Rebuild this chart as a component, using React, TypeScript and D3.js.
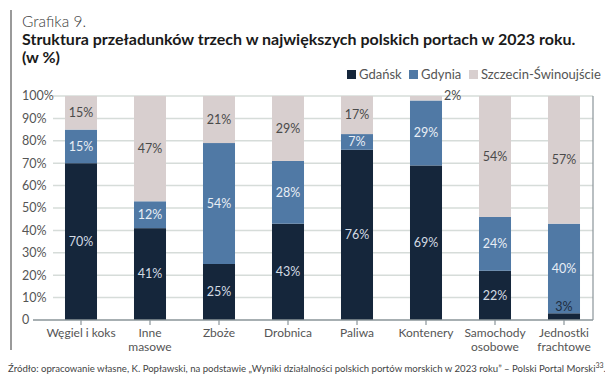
import React from "react";
import * as d3 from "d3";

const categories = [
  ["Węgiel i koks"],
  ["Inne", "masowe"],
  ["Zboże"],
  ["Drobnica"],
  ["Paliwa"],
  ["Kontenery"],
  ["Samochody", "osobowe"],
  ["Jednostki", "frachtowe"],
];
const gdansk = [70, 41, 25, 43, 76, 69, 22, 3];
const gdynia = [15, 12, 54, 28, 7, 29, 24, 40];
const szczecin = [15, 47, 21, 29, 17, 2, 54, 57];
const seriesNames = ["Gdańsk", "Gdynia", "Szczecin-Świnoujście"];
const yTicks = [0, 10, 20, 30, 40, 50, 60, 70, 80, 90, 100];

const colors = ["#15263b", "#5079a5", "#d8cfcf"];
const labelColors = ["#d3dbe3", "#e8eef5", "#4a4a4a"];
const FONT = "Lato, 'Open Sans', sans-serif";

export default function App() {
  const W = 605, H = 383;
  const y = d3.scaleLinear().domain([0, 100]).range([320, 96]);
  const x = d3
    .scaleBand<number>()
    .domain(d3.range(categories.length))
    .range([46.5, 598.5])
    .paddingInner(0.536)
    .paddingOuter(0.268);
  const data = categories.map((c, i) => ({ i, g0: gdansk[i], g1: gdynia[i], g2: szczecin[i] }));
  const stack = d3.stack<any>().keys(["g0", "g1", "g2"])(data);

  return (
    <svg width={W} height={H} style={{ position: "absolute", left: 0, top: 0, background: "#fff" }}>
      <rect width={W} height={H} fill="#fff" />
      <line x1={11} x2={11} y1={10} y2={350} stroke="#9a9a9a" strokeWidth={2} />
      <text x={22} y={27} fontFamily={FONT} fontSize={15.5} fontWeight={300} fill="#3a3a3a">Grafika 9.</text>
      <text x={22} y={45} fontFamily={FONT} fontSize={16} fontWeight={700} fill="#1a1a1a">
        Struktura przeładunków trzech w największych polskich portach w 2023 roku.
      </text>
      <text x={22} y={63} fontFamily={FONT} fontSize={16} fontWeight={700} fill="#1a1a1a">(w %)</text>

      {/* legend */}
      {[347, 409, 469].map((lx, k) => (
        <g key={k}>
          <rect x={lx} y={70} width={9} height={9} fill={colors[k]} />
          <text x={lx + 12} y={79} fontFamily={FONT} fontSize={13} fill="#555">{seriesNames[k]}</text>
        </g>
      ))}

      {/* gridlines */}
      {yTicks.filter(t => t > 0).map(t => (
        <line key={t} x1={53} x2={593} y1={y(t)} y2={y(t)} stroke="#d6dcd9" strokeWidth={1.5} />
      ))}
      {yTicks.map(t => (
        <text key={t} x={22} y={y(t)} dy="0.35em" fontFamily={FONT} fontSize={12.5} fill="#555">
          {t === 0 ? "0" : `${t}%`}
        </text>
      ))}

      {/* bars */}
      {stack.map((layer, k) =>
        layer.map((d, i) => (
          <rect key={`${k}-${i}`} x={x(i)} width={x.bandwidth()} y={y(d[1])} height={y(d[0]) - y(d[1])} fill={colors[k]} />
        ))
      )}
      {stack.map((layer, k) =>
        layer.map((d, i) => {
          const v = d[1] - d[0];
          const cx = (x(i) as number) + x.bandwidth() / 2;
          if (v < 5) {
            if (k === 2) {
              return (
                <text key={`l${k}-${i}`} x={cx + 18} y={y(d[1])} dy="0.35em" fontFamily={FONT} fontSize={12.5} fill="#4a4a4a">{v}%</text>
              );
            }
            return (
              <text key={`l${k}-${i}`} x={cx} y={y(d[1]) - 2} fontFamily={FONT} fontSize={12.5} textAnchor="middle" fill="#1e2d40">{v}%</text>
            );
          }
          return (
            <text key={`l${k}-${i}`} x={cx} y={y((d[0] + d[1]) / 2)} dy="0.35em" textAnchor="middle" fontFamily={FONT} fontSize={12.5} fill={labelColors[k]}>
              {v}%
            </text>
          );
        })
      )}

      {/* axes */}
      <line x1={593} x2={593} y1={96} y2={320} stroke="#8a9499" strokeWidth={1.2} />
      <line x1={33} x2={593} y1={320} y2={320} stroke="#8a9499" strokeWidth={1.5} />
      {categories.map((c, i) => {
        const cx = (x(i) as number) + x.bandwidth() / 2;
        return (
          <g key={i}>
            <line x1={cx} x2={cx} y1={320} y2={325} stroke="#8a9499" strokeWidth={1.2} />
            {c.map((line, j) => (
              <text key={j} x={cx} y={337 + j * 14} textAnchor="middle" fontFamily={FONT} fontSize={12} fill="#555">{line}</text>
            ))}
          </g>
        );
      })}

      <text x={8} y={372} fontFamily={FONT} fontSize={9.6} fill="#444">
        Źródło: opracowanie własne, K. Popławski, na podstawie „Wyniki działalności polskich portów morskich w 2023 roku” – Polski Portal Morski
        <tspan fontSize={7} dy={-4}>33</tspan>
        <tspan dy={4}>.</tspan>
      </text>
    </svg>
  );
}
